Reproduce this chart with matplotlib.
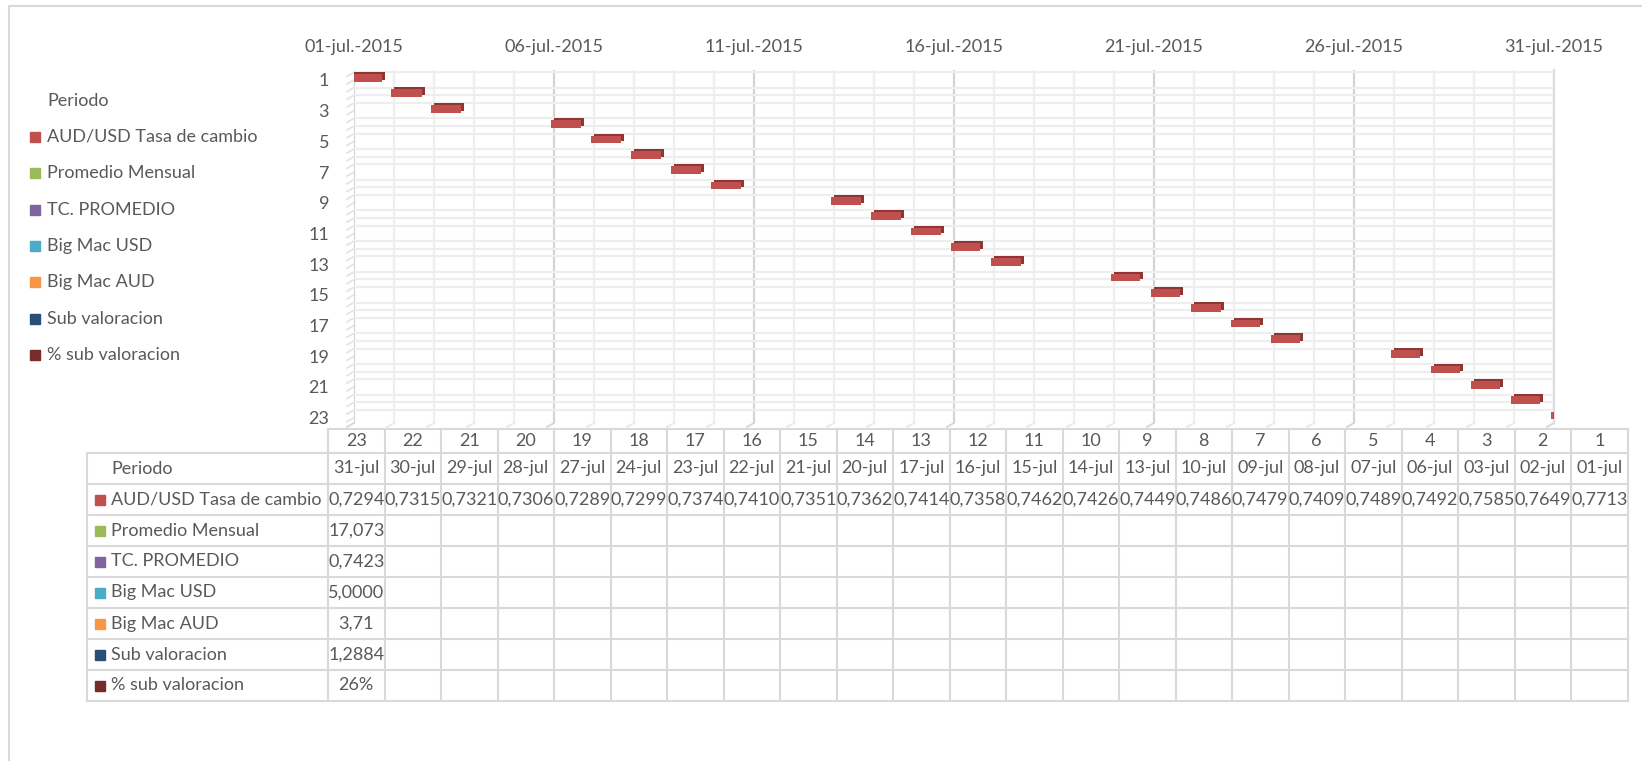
import matplotlib
matplotlib.use('Agg')
import matplotlib.pyplot as plt
import matplotlib.transforms as mtrans
from matplotlib.patches import Rectangle
import numpy as np

# ---------------- data ----------------
periods = list(range(1, 24))
days = [1, 2, 3, 6, 7, 8, 9, 10, 13, 14, 15, 16, 17, 20, 21, 22, 23, 24, 27, 28, 29, 30, 31]
rates = [0.7713, 0.7649, 0.7585, 0.7492, 0.7489, 0.7409, 0.7479, 0.7486, 0.7449, 0.7426,
         0.7462, 0.7358, 0.7414, 0.7362, 0.7351, 0.7410, 0.7374, 0.7299, 0.7289, 0.7306,
         0.7321, 0.7315, 0.7294]
date_labels = ["%02d-jul" % d for d in days]
x_major_days = [1, 6, 11, 16, 21, 26, 31]
x_tick_labels = ["%02d-jul.-2015" % d for d in x_major_days]
y_tick_vals = list(range(1, 24, 2))

series_names = ["AUD/USD Tasa de cambio", "Promedio Mensual", "TC. PROMEDIO",
                "Big Mac USD", "Big Mac AUD", "Sub valoracion", "% sub valoracion"]
series_colors = ["#C0504D", "#9BBB59", "#8064A2", "#4BACC6", "#F79646", "#2C4D75", "#772C2A"]
single_values = ["17,073", "0,7423", "5,0000", "3,71", "1,2884", "26%"]

TXT = "#595959"
GRID = "#D9D9D9"
FONT = "Lato"
FS = 13

W, H = 1642, 761
fig = plt.figure(figsize=(W / 100, H / 100), dpi=100)

# overlay axes in pixel coordinates for legend/table/border
ov = fig.add_axes([0, 0, 1, 1], zorder=0)
ov.set_xlim(0, W)
ov.set_ylim(H, 0)
ov.axis('off')

# chart border
ov.plot([9, 9, W], [H, 6, 6], color=GRID, lw=1.5, solid_capstyle='butt')

# ---------------- main plot ----------------
L, R, T, B = 354, 1554, 70, 423
ax = fig.add_axes([L / W, (H - B) / H, (R - L) / W, (B - T) / H], zorder=1)
ax.set_xlim(1, 31)
ax.set_ylim(23.35, 0.35)
ax.xaxis.tick_top()
ax.set_xticks(x_major_days)
ax.set_xticklabels(x_tick_labels, fontsize=FS, color=TXT, family=FONT)
ax.set_xticks(np.arange(1, 32, 1), minor=True)
ax.set_yticks(y_tick_vals)
ax.set_yticklabels([str(v) for v in y_tick_vals], fontsize=FS, color=TXT, family=FONT)
ax.set_yticks(np.arange(0.5, 23.5, 0.5), minor=True)
ax.tick_params(axis='both', which='both', length=0)
ax.tick_params(axis='x', pad=11)
ax.tick_params(axis='y', pad=18)
ax.grid(True, axis='x', which='minor', color='#EEEEEE', lw=1.6)
ax.grid(True, axis='y', which='minor', color='#EEEEEE', lw=1.6)
ax.grid(True, axis='x', which='major', color='#D4D4D4', lw=1.6)
ax.set_axisbelow(True)
for s in ['top', 'bottom', 'left']:
    ax.spines[s].set_visible(False)
ax.spines['right'].set_color('#DDDDDD')
ax.spines['right'].set_linewidth(1.6)

back_tr = mtrans.offset_copy(ax.transData, fig=fig, x=0, y=4, units='dots')
front_tr = mtrans.offset_copy(ax.transData, fig=fig, x=-3, y=2, units='dots')
ax.barh(periods, rates, left=days, height=0.5, color='#8E3634', transform=back_tr, zorder=3)
ax.barh(periods, rates, left=days, height=0.5, color='#C0504D', transform=front_tr, zorder=4)

# 3D depth marks (floor / side wall edges) in pixel space
fig.canvas.draw()
def to_px(x, y):
    px, py = ax.transData.transform((x, y))
    return px, H - py
for yv in np.arange(0.5, 23.5, 0.5):
    px, py = to_px(1, yv)
    ov.plot([px, px - 7], [py, py + 4], color='#E4E4E4', lw=1.3)
for xv in range(1, 32):
    px, py = to_px(xv, 23.35)
    col = '#D4D4D4' if (xv - 1) % 5 == 0 else '#E8E8E8'
    ov.plot([px, px - 7], [py, py + 4], color=col, lw=1.3)

# ---------------- legend (left) ----------------
leg_y = [101, 137, 173, 210, 246, 282, 319, 355]
ov.text(47, leg_y[0], "Periodo", fontsize=FS, color=TXT, family=FONT, va='center')
for name, col, y in zip(series_names, series_colors, leg_y[1:]):
    ov.add_patch(Rectangle((30, y - 5), 10, 10, color=col))
    ov.text(47, y, name, fontsize=FS, color=TXT, family=FONT, va='center')

# ---------------- data table ----------------
n = len(periods)
x0, colw = 328, 56.5
lab_x0 = 87
row_tops = [429, 453, 484, 515, 546, 577, 608, 639, 670, 701]
x_right = x0 + n * colw
lw_t = 1.5
ov.plot([x0, x_right], [row_tops[0], row_tops[0]], color=GRID, lw=lw_t)
for i in range(1, len(row_tops)):
    ov.plot([lab_x0, x_right], [row_tops[i], row_tops[i]], color=GRID, lw=lw_t)
ov.plot([lab_x0, lab_x0], [row_tops[1], row_tops[-1]], color=GRID, lw=lw_t)
for j in range(n + 1):
    ov.plot([x0 + j * colw] * 2, [row_tops[0], row_tops[-1]], color=GRID, lw=lw_t)

def cy(r):
    return (row_tops[r] + row_tops[r + 1]) / 2

order = list(range(n - 1, -1, -1))  # columns: period 23 ... 1
for j, k in enumerate(order):
    xc = x0 + (j + 0.5) * colw
    ov.text(xc, cy(0), str(periods[k]), fontsize=FS, color=TXT, family=FONT, ha='center', va='center')
    ov.text(xc, cy(1), date_labels[k], fontsize=FS, color=TXT, family=FONT, ha='center', va='center')
    ov.text(xc, cy(2), ("%.4f" % rates[k]).replace('.', ','), fontsize=FS, color=TXT,
            family=FONT, ha='center', va='center')

ov.text(111, cy(1), "Periodo", fontsize=FS, color=TXT, family=FONT, va='center')
for r, (name, col) in enumerate(zip(series_names, series_colors)):
    y = cy(r + 2)
    ov.add_patch(Rectangle((95, y - 5), 10, 10, color=col))
    ov.text(111, y, name, fontsize=FS, color=TXT, family=FONT, va='center')
for r, v in enumerate(single_values):
    ov.text(x0 + 0.5 * colw, cy(r + 3), v, fontsize=FS, color=TXT, family=FONT,
            ha='center', va='center')

fig.savefig("out.png", dpi=100, facecolor='white')
